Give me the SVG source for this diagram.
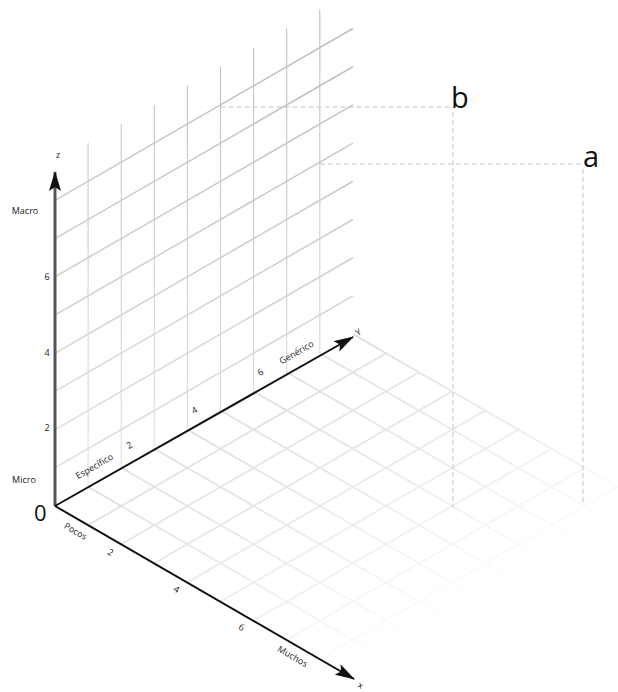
<svg xmlns="http://www.w3.org/2000/svg" width="618" height="692" viewBox="0 0 618 692">
<defs>
<style>
.wall{stroke:url(#wallGrad);stroke-width:1.6;fill:none}
.wallv{stroke:url(#wallGrad);stroke-width:1.1;fill:none}
.floor{stroke:url(#floorGrad);stroke-width:1.8;fill:none}
.proj{stroke:#c4c4c4;stroke-width:1;stroke-dasharray:5 3;fill:none}
.axis{stroke:#111;stroke-width:2;fill:none}
.zaxis{stroke:#555;stroke-width:3;fill:none}
.lbl{font-family:"Open Sans","DejaVu Sans",sans-serif;font-size:9px;fill:#222;text-anchor:middle}
.big{font-family:"Open Sans","DejaVu Sans",sans-serif;font-size:29px;fill:#111}
</style>
<linearGradient id="wallGrad" gradientUnits="userSpaceOnUse" x1="0" y1="0" x2="0" y2="510">
<stop offset="0" stop-color="#bcbcbc"/>
<stop offset="1" stop-color="#e4e4e4"/>
</linearGradient>
<linearGradient id="floorGrad" gradientUnits="userSpaceOnUse" x1="55" y1="506" x2="204" y2="764">
<stop offset="0" stop-color="#e0e0e0"/>
<stop offset="0.5" stop-color="#ebebeb"/>
<stop offset="0.8" stop-color="#f6f6f6"/>
<stop offset="1" stop-color="#ffffff"/>
</linearGradient>
<marker id="arr" viewBox="0 0 20 12" refX="19" refY="6" markerWidth="20" markerHeight="12" orient="auto" markerUnits="userSpaceOnUse">
<path d="M0,0 L20,6 L0,12 L4,6 z" fill="#111"/>
</marker>
</defs>
<rect width="618" height="692" fill="#fff"/>

<g id="floor-grid">
<line class="floor" x1="88.1" y1="486.9" x2="386" y2="658.8"/>
<line class="floor" x1="121.2" y1="467.8" x2="419.1" y2="639.7"/>
<line class="floor" x1="154.3" y1="448.7" x2="452.2" y2="620.6"/>
<line class="floor" x1="187.4" y1="429.6" x2="485.3" y2="601.5"/>
<line class="floor" x1="220.5" y1="410.5" x2="518.4" y2="582.4"/>
<line class="floor" x1="253.6" y1="391.4" x2="551.5" y2="563.3"/>
<line class="floor" x1="286.7" y1="372.3" x2="584.6" y2="544.2"/>
<line class="floor" x1="319.8" y1="353.2" x2="617.7" y2="525.1"/>
<line class="floor" x1="352.9" y1="334.1" x2="650.8" y2="506"/>
<line class="floor" x1="88.1" y1="525.1" x2="386" y2="353.2"/>
<line class="floor" x1="121.2" y1="544.2" x2="419.1" y2="372.3"/>
<line class="floor" x1="154.3" y1="563.3" x2="452.2" y2="391.4"/>
<line class="floor" x1="187.4" y1="582.4" x2="485.3" y2="410.5"/>
<line class="floor" x1="220.5" y1="601.5" x2="518.4" y2="429.6"/>
<line class="floor" x1="253.6" y1="620.6" x2="551.5" y2="448.7"/>
<line class="floor" x1="286.7" y1="639.7" x2="584.6" y2="467.8"/>
<line class="floor" x1="319.8" y1="658.8" x2="617.7" y2="486.9"/>
<line class="floor" x1="352.9" y1="677.9" x2="650.8" y2="506"/>
</g>

<g id="wall-grid">
<line class="wallv" x1="88.1" y1="486.9" x2="88.1" y2="143.1"/>
<line class="wallv" x1="121.2" y1="467.8" x2="121.2" y2="124"/>
<line class="wallv" x1="154.3" y1="448.7" x2="154.3" y2="104.9"/>
<line class="wallv" x1="187.4" y1="429.6" x2="187.4" y2="85.8"/>
<line class="wallv" x1="220.5" y1="410.5" x2="220.5" y2="66.7"/>
<line class="wallv" x1="253.6" y1="391.4" x2="253.6" y2="47.6"/>
<line class="wallv" x1="286.7" y1="372.3" x2="286.7" y2="28.5"/>
<line class="wallv" x1="319.8" y1="353.2" x2="319.8" y2="9.4"/>
<line class="wall" x1="55" y1="467.8" x2="352.9" y2="295.9"/>
<line class="wall" x1="55" y1="429.6" x2="352.9" y2="257.7"/>
<line class="wall" x1="55" y1="391.4" x2="352.9" y2="219.5"/>
<line class="wall" x1="55" y1="353.2" x2="352.9" y2="181.3"/>
<line class="wall" x1="55" y1="315" x2="352.9" y2="143.1"/>
<line class="wall" x1="55" y1="276.8" x2="352.9" y2="104.9"/>
<line class="wall" x1="55" y1="238.6" x2="352.9" y2="66.7"/>
<line class="wall" x1="55" y1="200.4" x2="352.9" y2="28.5"/>
</g>

<g id="connectors">
<line class="zaxis" x1="55" y1="506" x2="55" y2="172" marker-end="url(#arr)"/>
<line class="axis" x1="55" y1="506" x2="353" y2="337" marker-end="url(#arr)"/>
<line class="axis" x1="55" y1="506" x2="354" y2="679" marker-end="url(#arr)"/>
<line class="proj" x1="220.5" y1="107" x2="451" y2="107"/>
<line class="proj" x1="453" y1="112" x2="453" y2="507"/>
<line class="proj" x1="319.8" y1="164" x2="582" y2="164"/>
<line class="proj" x1="583" y1="169" x2="583" y2="505"/>
</g>

<g id="z-labels">
<text class="lbl" x="58" y="158">z</text>
<text class="lbl" x="25" y="214">Macro</text>
<text class="lbl" x="47" y="280">6</text>
<text class="lbl" x="47" y="356">4</text>
<text class="lbl" x="47" y="431">2</text>
<text class="lbl" x="24" y="483">Micro</text>
</g>

<g id="y-labels">
<text class="lbl" transform="translate(96,469) rotate(-30)">Específico</text>
<text class="lbl" transform="translate(131,448) rotate(-30)">2</text>
<text class="lbl" transform="translate(196,413) rotate(-30)">4</text>
<text class="lbl" transform="translate(262,375) rotate(-30)">6</text>
<text class="lbl" transform="translate(298,355) rotate(-30)">Genérico</text>
<text class="lbl" transform="translate(360,335) rotate(-30)">Y</text>
</g>

<g id="x-labels">
<text class="lbl" transform="translate(74,534) rotate(30)">Pocos</text>
<text class="lbl" transform="translate(109,555) rotate(30)">2</text>
<text class="lbl" transform="translate(175,592) rotate(30)">4</text>
<text class="lbl" transform="translate(240,630) rotate(30)">6</text>
<text class="lbl" transform="translate(291,659) rotate(30)">Muchos</text>
<text class="lbl" transform="translate(359,688) rotate(30)">x</text>
</g>

<g id="origin">
<text class="big" x="34" y="521" style="font-size:22px">0</text>
</g>

<g id="point-b">
<text class="big" x="451" y="108">b</text>
</g>

<g id="point-a">
<text class="big" x="583" y="167">a</text>
</g>
</svg>
